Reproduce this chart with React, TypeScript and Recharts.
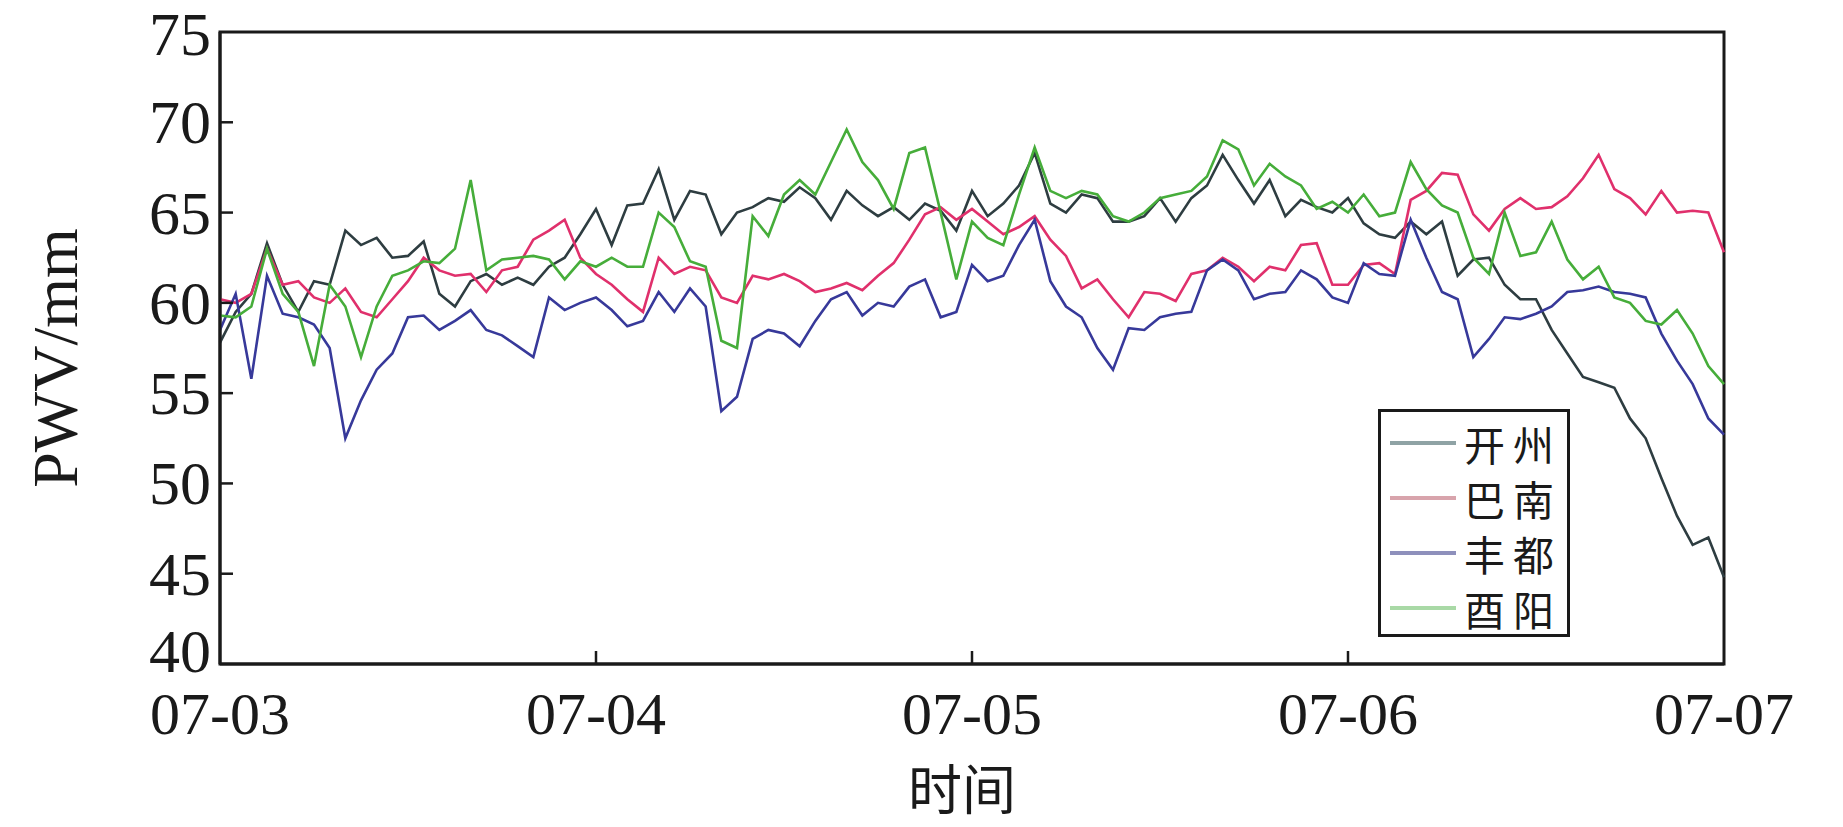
import { LineChart, Line, XAxis, YAxis, ReferenceArea, Label } from "recharts";

// hourly PWV (mm), 07-03 00:00 -> 07-07 00:00
const KAIZHOU = [
  57.8, 59.5, 60.5, 63.3, 61.0, 59.5, 61.2, 61.0, 64.0, 63.2, 63.6, 62.5, 62.6, 63.4, 60.5, 59.8,
  61.2, 61.6, 61.0, 61.4, 61.0, 62.0, 62.5, 63.8, 65.2, 63.2, 65.4, 65.5, 67.4, 64.6, 66.2, 66.0,
  63.8, 65.0, 65.3, 65.8, 65.6, 66.4, 65.8, 64.6, 66.2, 65.4, 64.8, 65.3, 64.6, 65.5, 65.1, 64.0,
  66.2, 64.8, 65.5, 66.5, 68.3, 65.5, 65.0, 66.0, 65.8, 64.5, 64.5, 64.8, 65.8, 64.5, 65.8, 66.5,
  68.2, 66.8, 65.5, 66.8, 64.8, 65.7, 65.3, 65.0, 65.8, 64.4, 63.8, 63.6, 64.5, 63.8, 64.5, 61.5,
  62.4, 62.5, 61.0, 60.2, 60.2, 58.5, 57.2, 55.9, 55.6, 55.3, 53.6, 52.5, 50.3, 48.2, 46.6, 47.0,
  44.8,
];
const BANAN = [
  60.2, 60.0, 60.5, 63.0, 61.0, 61.2, 60.3, 60.0, 60.8, 59.5, 59.2, 60.2, 61.2, 62.5, 61.8, 61.5,
  61.6, 60.6, 61.8, 62.0, 63.5, 64.0, 64.6, 62.5, 61.6, 61.0, 60.2, 59.5, 62.5, 61.6, 62.0, 61.8,
  60.3, 60.0, 61.5, 61.3, 61.6, 61.2, 60.6, 60.8, 61.1, 60.7, 61.5, 62.2, 63.5, 64.9, 65.3, 64.6,
  65.2, 64.5, 63.8, 64.2, 64.8, 63.5, 62.6, 60.8, 61.3, 60.2, 59.2, 60.6, 60.5, 60.1, 61.6, 61.8,
  62.5, 62.0, 61.2, 62.0, 61.8, 63.2, 63.3, 61.0, 61.0, 62.1, 62.2, 61.6, 65.7, 66.2, 67.2, 67.1,
  64.9, 64.0, 65.2, 65.8, 65.2, 65.3, 65.9, 66.9, 68.2, 66.3, 65.8, 64.9, 66.2, 65.0, 65.1, 65.0,
  62.8,
];
const FENGDU = [
  58.5, 60.5, 55.8, 61.5, 59.4, 59.2, 58.8, 57.5, 52.5, 54.6, 56.3, 57.2, 59.2, 59.3, 58.5, 59.0,
  59.6, 58.5, 58.2, 57.6, 57.0, 60.3, 59.6, 60.0, 60.3, 59.6, 58.7, 59.0, 60.6, 59.5, 60.8, 59.8,
  54.0, 54.8, 58.0, 58.5, 58.3, 57.6, 59.0, 60.2, 60.6, 59.3, 60.0, 59.8, 60.9, 61.3, 59.2, 59.5,
  62.1, 61.2, 61.5, 63.2, 64.6, 61.2, 59.8, 59.2, 57.5, 56.3, 58.6, 58.5, 59.2, 59.4, 59.5, 61.8,
  62.4, 61.8, 60.2, 60.5, 60.6, 61.8, 61.3, 60.3, 60.0, 62.2, 61.6, 61.5, 64.6, 62.5, 60.6, 60.2,
  57.0, 58.0, 59.2, 59.1, 59.4, 59.8, 60.6, 60.7, 60.9, 60.6, 60.5, 60.3, 58.3, 56.8, 55.5, 53.6,
  52.7,
];
const YOUYANG = [
  59.3, 59.2, 59.8, 63.0, 60.5, 59.5, 56.5, 61.0, 59.8, 57.0, 59.8, 61.5, 61.8, 62.3, 62.2, 63.0,
  66.8, 61.8, 62.4, 62.5, 62.6, 62.4, 61.3, 62.3, 62.0, 62.5, 62.0, 62.0, 65.0, 64.2, 62.3, 62.0,
  57.9, 57.5, 64.8, 63.7, 66.0, 66.8, 66.0, 67.8, 69.6, 67.8, 66.8, 65.2, 68.3, 68.6, 65.0, 61.3,
  64.5, 63.6, 63.2, 66.0, 68.6, 66.2, 65.8, 66.2, 66.0, 64.8, 64.5, 65.0, 65.8, 66.0, 66.2, 67.0,
  69.0, 68.5, 66.5, 67.7, 67.0, 66.5, 65.2, 65.6, 65.0, 66.0, 64.8, 65.0, 67.8, 66.3, 65.4, 65.0,
  62.5, 61.6, 65.0, 62.6, 62.8, 64.5, 62.4, 61.3, 62.0, 60.3, 60.0, 59.0, 58.8, 59.6, 58.3, 56.5,
  55.5,
];

const DAY_TICKS = [0, 24, 48, 72, 96];
const DAY_LABELS = ["07-03", "07-04", "07-05", "07-06", "07-07"];
const Y_TICKS = [40, 45, 50, 55, 60, 65, 70, 75];

const SERIES = [
  { key: "kaizhou", name: "开州", color: "#2e3d41", swatch: "#8fa3a5" },
  { key: "banan", name: "巴南", color: "#e0306c", swatch: "#d8a4ac" },
  { key: "fengdu", name: "丰都", color: "#37399a", swatch: "#8e90bc" },
  { key: "youyang", name: "酉阳", color: "#46ad3a", swatch: "#a9d9a6" },
];

const rows = KAIZHOU.map((_, i) => ({
  h: i,
  kaizhou: KAIZHOU[i],
  banan: BANAN[i],
  fengdu: FENGDU[i],
  youyang: YOUYANG[i],
}));

const INK = "#1a1a1a";
const SERIF = "'Liberation Serif', 'DejaVu Serif', serif";
const CJK = "'Noto Sans CJK SC', sans-serif";

function XTick({ x, y, payload }: any) {
  const idx = DAY_TICKS.indexOf(payload.value);
  const inner = idx > 0 && idx < DAY_TICKS.length - 1;
  return (
    <g>
      {inner && <line x1={x} y1={y} x2={x} y2={y - 13} stroke={INK} strokeWidth={2.5} />}
      <text x={x} y={y + 70} textAnchor="middle" fontSize={60} fontFamily={SERIF} fill={INK}>
        {DAY_LABELS[idx]}
      </text>
    </g>
  );
}

function YTick({ x, y, payload }: any) {
  const v = payload.value;
  const inner = v !== 40 && v !== 75;
  // the bottom label sits a little higher so it clears 07-03
  const dy = v === 40 ? 8 : v === 75 ? 23 : 21;
  return (
    <g>
      {inner && <line x1={x} y1={y} x2={x + 13} y2={y} stroke={INK} strokeWidth={2.5} />}
      <text x={x - 9} y={y + dy} textAnchor="end" fontSize={62} fontFamily={SERIF} fill={INK}>
        {v}
      </text>
    </g>
  );
}

function LegendBox() {
  return (
    <div
      style={{
        position: "absolute",
        left: 1378,
        top: 409,
        width: 192,
        height: 228,
        boxSizing: "border-box",
        border: `3px solid ${INK}`,
        background: "#fff",
        paddingTop: 3,
      }}
    >
      {SERIES.map((s) => (
        <div key={s.key} style={{ display: "flex", alignItems: "center", height: 55 }}>
          <div style={{ width: 66, height: 4, marginLeft: 9, background: s.swatch }} />
          <span
            style={{
              marginLeft: 8,
              fontFamily: CJK,
              fontSize: 41,
              letterSpacing: 8,
              lineHeight: "52px",
              color: INK,
            }}
          >
            {s.name}
          </span>
        </div>
      ))}
    </div>
  );
}

export default function App() {
  return (
    <div style={{ position: "absolute", left: 0, top: 0, width: 1843, height: 827, background: "#fff" }}>
      <LineChart width={1843} height={827} data={rows} margin={{ top: 32, right: 119, bottom: 103, left: 160 }}>
        <XAxis
          dataKey="h"
          type="number"
          domain={[0, 96]}
          ticks={DAY_TICKS}
          interval={0}
          height={60}
          tickSize={0}
          tickMargin={0}
          tickLine={false}
          axisLine={{ stroke: INK, strokeWidth: 3 }}
          tick={<XTick />}
        >
          <Label
            content={({ viewBox }: any) => (
              <text
                x={viewBox.x + viewBox.width / 2 - 10}
                y={664 + 122}
                textAnchor="middle"
                dominantBaseline="central"
                fontSize={54}
                fontFamily={CJK}
                fill={INK}
              >
                时间
              </text>
            )}
          />
        </XAxis>
        <YAxis
          type="number"
          domain={[40, 75]}
          ticks={Y_TICKS}
          interval={0}
          width={60}
          tickSize={0}
          tickMargin={0}
          tickLine={false}
          allowDataOverflow
          axisLine={{ stroke: INK, strokeWidth: 3 }}
          tick={<YTick />}
        >
          <Label
            content={() => {
              const cx = 55;
              const cy = 358;
              return (
                <text
                  x={cx}
                  y={cy}
                  transform={`rotate(-90 ${cx} ${cy})`}
                  textAnchor="middle"
                  dominantBaseline="central"
                  fontSize={64}
                  fontFamily={SERIF}
                  fill={INK}
                >
                  PWV/mm
                </text>
              );
            }}
          />
        </YAxis>
        <ReferenceArea
          x1={0}
          x2={96}
          y1={40}
          y2={75}
          fill="none"
          stroke={INK}
          strokeWidth={3}
          ifOverflow="visible"
        />
        {SERIES.map((s) => (
          <Line
            key={s.key}
            type="linear"
            dataKey={s.key}
            name={s.name}
            stroke={s.color}
            strokeWidth={2.6}
            dot={false}
            isAnimationActive={false}
          />
        ))}
      </LineChart>
      <LegendBox />
    </div>
  );
}
